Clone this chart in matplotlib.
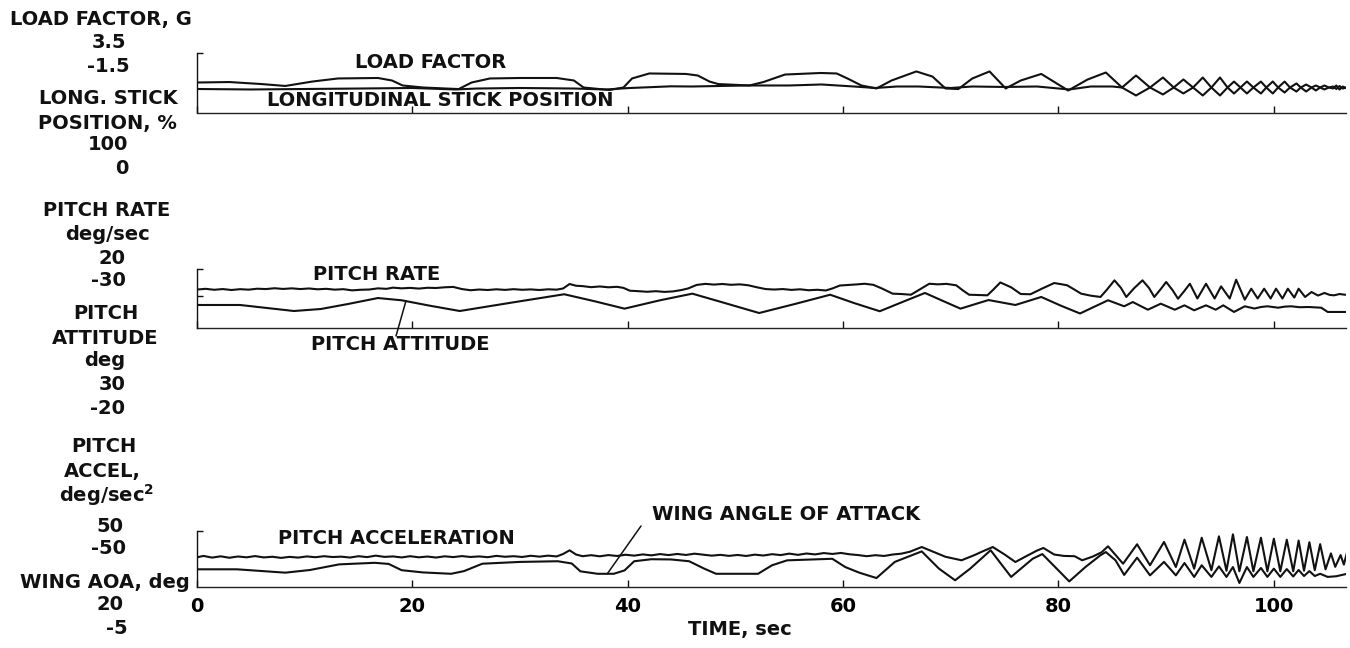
import matplotlib
matplotlib.use("Agg")
import matplotlib.pyplot as plt

# ---------------- data ----------------
TIME_TICKS = [0, 20, 40, 60, 80, 100]
TIME_TICK_LABELS = ["0", "20", "40", "60", "80", "100"]
T_MAX = 106.7

# Panel 1: load factor (G) and longitudinal stick position (%)
LF_RANGE = (-1.5, 3.5)
ST_RANGE = (0, 100)
LF_T = [0, 3, 6, 8.2, 10.7, 13.1, 16.8, 18.1, 19.1, 21, 23, 24.3, 25.5, 27.2, 30, 33.4, 35, 35.9, 38.3, 39.6,
        40.4, 42, 45.4, 46.5, 47.6, 48.4, 51.3, 52.6, 54.6, 57.9, 59.4, 60.4, 61.7, 63.1, 64.5, 66.8, 68.3, 69.5,
        70.7, 72, 73.6, 75.1, 76.5, 78.4, 80.9, 82.7, 84.4, 85.9, 87.2, 88.5, 89.7, 90.7, 91.6, 92.5, 93.4, 94.2,
        95.0, 95.7, 96.3, 96.9, 97.5, 98.1, 98.8, 99.3, 99.9, 100.4, 101.0, 101.5, 102.1, 102.5, 103.0, 103.5,
        103.9, 104.3, 104.7, 105.1, 105.5, 105.8, 106.1, 106.4, 106.7]
LF_G = [1.02, 1.06, 0.89, 0.73, 1.10, 1.36, 1.40, 1.19, 0.77, 0.60, 0.52, 0.47, 1.02, 1.36, 1.40, 1.40, 1.19, 0.60,
        0.39, 0.60, 1.36, 1.78, 1.74, 1.61, 1.10, 0.89, 0.77, 1.06, 1.69, 1.82, 1.78, 1.36, 0.77, 0.52, 1.19, 1.95,
        1.52, 0.52, 0.47, 1.36, 1.95, 0.52, 1.19, 1.74, 0.35, 1.27, 1.86, 0.60, -0.07, 0.60, 1.44, 0.60, 0.10, 0.60,
        1.44, 0.60, -0.07, 0.60, 1.10, 0.60, 0.10, 0.60, 1.10, 0.60, 0.10, 0.60, 1.10, 0.60, 0.26, 0.60, 0.85, 0.60,
        0.35, 0.60, 0.77, 0.60, 0.52, 0.77, 0.43, 0.68, 0.56]
ST_T = [0, 5, 10, 15, 20, 24, 26, 30, 35, 38, 40, 44, 46, 51, 55, 58, 61, 63, 65, 67, 70, 72, 75, 78, 81, 83, 85,
        85.9, 87.2, 88.5, 89.7, 90.7, 91.6, 92.5, 93.4, 94.2, 95.0, 95.7, 96.3, 96.9, 97.5, 98.1, 98.8, 99.3, 99.9,
        100.4, 101.0, 101.5, 102.1, 102.5, 103.0, 103.5, 103.9, 104.3, 104.7, 105.1, 105.5, 105.8, 106.1, 106.4, 106.7]
ST_P = [39.5, 38.7, 39.5, 40.3, 41.2, 38.7, 40.3, 41.2, 40.3, 38.7, 41.0, 44.0, 43.7, 45.4, 45.4, 47.1, 43.7, 41.2,
        43.7, 43.7, 41.2, 43.7, 42.9, 43.7, 38.7, 43.7, 43.7,
        42.0, 62.2, 42.0, 30.3, 42.0, 55.5, 42.0, 28.6, 42.0, 58.8, 42.0, 31.9, 42.0, 52.1, 42.0, 31.9, 42.0, 52.1,
        42.0, 33.6, 42.0, 48.8, 42.0, 35.3, 42.0, 45.4, 42.0, 38.7, 42.0, 43.7, 39.5, 44.5, 40.3, 42.0]

# Panel 2: pitch rate (deg/sec) and pitch attitude (deg)
PR_RANGE = (-30, 20)
PT_RANGE = (-20, 30)
PR_T = [0, 0.8, 1.6, 2.4, 3.2, 4.0, 4.8, 5.6, 6.4, 7.2, 8.0, 8.8, 9.6, 10.4, 11.2, 12.0, 12.8, 13.6, 14.4, 15.2,
        16.0, 16.8, 17.6, 18.2, 19.0, 19.8, 20.6, 21.4, 22.2, 23.0, 23.8, 24.6, 25.4, 26.2, 27.0, 27.8, 28.6, 29.4,
        30.2, 31.0, 31.8, 32.6, 33.4, 34.0, 34.6, 35.2, 35.8, 36.6, 37.4, 38.2, 39.0, 39.6, 40.2, 41.0, 41.8, 42.6,
        43.4, 44.2, 45.0, 45.6, 46.4, 47.2, 48.0, 48.8, 49.6, 50.4, 51.2, 52.0, 52.8, 53.6, 54.4, 55.2, 56.0, 56.8,
        57.6, 58.4, 59.0, 59.7, 60.4, 61.2, 62.0, 62.8, 63.6, 64.6, 65.4, 66.3, 67.0, 68.0, 68.8, 69.6, 70.5, 71.1,
        71.7, 72.5, 73.4, 74.0, 74.6, 75.6, 76.5, 77.4, 78.5, 79.6, 80.2, 80.8, 81.4, 82.1, 83.0, 83.9, 84.5, 85.2,
        85.8, 86.3, 87.0, 87.8, 88.4, 88.9, 89.5, 90.0, 90.6, 91.1, 91.7, 92.2, 92.9, 93.7, 94.5, 95.1, 95.9, 96.5,
        97.3, 97.9, 98.5, 99.1, 99.7, 100.2, 100.8, 101.3, 101.9, 102.3, 102.9, 103.5, 104.1, 104.7, 105.2, 105.6,
        106.1, 106.6]
PR_V = [2.6, 3.2, 2.4, 3.0, 2.2, 2.9, 2.5, 3.3, 3.0, 3.7, 3.1, 3.6, 3.0, 3.5, 2.8, 3.2, 2.5, 2.9, 1.9, 2.4,
        2.6, 3.6, 3.2, 4.2, 3.6, 4.0, 3.4, 4.1, 3.9, 4.5, 4.8, 3.0, 2.0, 2.6, 2.2, 2.8, 2.3, 2.9, 2.4, 2.7,
        2.2, 2.8, 2.5, 3.5, 7.3, 5.8, 5.5, 4.6, 5.2, 4.5, 4.9, 4.0, 1.6, 1.2, 0.7, 1.2, 0.6, 1.0, 2.2, 3.5,
        6.5, 7.4, 6.8, 7.3, 6.6, 7.0, 6.2, 4.5, 3.0, 2.6, 3.0, 2.3, 2.8, 2.0, 2.4, 1.8, 3.5, 6.0, 6.4, 6.9,
        7.5, 6.6, 3.5, -0.9, -1.2, -1.8, 2.0, 7.5, 7.0, 7.4, 6.2, 2.0, -1.8, -2.0, -2.3, 3.0, 8.6, 4.5, -1.2, -1.4,
        3.5, 8.1, 7.2, 6.2, 3.0, -0.9, -2.6, -3.7, 2.5, 10.4, 4.0, -3.7, 3.5, 10.4, 4.0, -3.7, 3.0, 9.0, 2.0, -5.2,
        1.5, 7.5, -5.0, 7.5, -5.0, 5.3, -5.0, 10.9, -6.0, 3.3, -5.0, 3.3, -5.0, 3.3, -5.0, 3.3, -4.2, 3.3, -3.7, 0.5,
        -2.5, -0.3, -2.0, -2.3, -1.2, -1.8]
PT_T = [0, 4, 9, 11.5, 14, 16.8, 19, 21.5, 24.4, 29, 34.1, 37, 39.7, 43, 46, 49, 52.2, 55.5, 58.8, 61, 63.4, 65.5,
        67.6, 69.5, 70.9, 73.5, 76.0, 78.4, 80.2, 82.0, 84.6, 86.1, 86.9, 88.3, 89.5, 90.8, 91.7, 92.6, 93.7, 94.6,
        95.3, 96.3, 97.3, 98.2, 98.8, 99.4, 100.4, 101.0, 101.6, 102.4, 103.2, 104.4, 105.0, 106.6]
PT_V = [-0.5, -0.5, -5.6, -3.9, 0.3, 5.4, 3.5, -0.9, -5.6, 1.2, 8.6, 2.5, -3.6, 3.5, 9.1, 1.2, -7.3, 0.3, 8.2, 1.2,
        -5.8, 2.0, 9.7, 2.0, -3.6, 3.7, -0.5, 6.3, -1.0, -7.7, 3.5, -1.6, 2.0, -4.5, 0.6, -4.5, -0.8, -5.0, -0.8, -4.5,
        -0.8, -6.4, -1.6, -3.5, -2.2, -1.6, -2.8, -1.9, -1.6, -2.4, -2.2, -2.8, -6.4, -6.4]

# Panel 3: pitch acceleration (deg/sec^2) and wing angle of attack (deg)
PA_RANGE = (-50, 50)
AOA_RANGE = (-5, 20)
PA_T = [0, 0.6, 1.4, 2.2, 3.0, 3.8, 4.6, 5.4, 6.2, 7.0, 7.8, 8.6, 9.4, 10.2, 11.0, 11.8, 12.6, 13.4, 14.2, 15.0,
        15.8, 16.6, 17.4, 18.2, 19.0, 19.8, 20.6, 21.4, 22.2, 23.0, 23.8, 24.6, 25.4, 26.2, 27.0, 27.8, 28.6, 29.4,
        30.2, 31.0, 31.8, 32.6, 33.4, 34.0, 34.6, 35.2, 35.8, 36.6, 37.4, 38.2, 39.0, 39.8, 40.6, 41.4, 42.2, 43.0,
        43.8, 44.6, 45.4, 46.2, 47.0, 47.8, 48.6, 49.4, 50.2, 51.0, 51.8, 52.6, 53.4, 54.2, 55.0, 55.8, 56.6, 57.4,
        58.2, 59.0, 59.8, 60.6, 61.4, 62.2, 63.0, 63.8, 64.6, 65.4, 66.2, 67.3, 68.5, 69.5, 71.0, 72.2, 73.0, 73.9,
        75.0, 76.0, 77.0, 78.0, 78.6, 79.6, 80.5, 81.5, 82.2, 83.2, 84.0, 84.6, 86.0, 87.3, 88.5, 89.8, 90.9, 91.7,
        92.6, 93.3, 94.2, 94.9, 95.6, 96.2, 96.8, 97.5, 98.1, 98.8, 99.4, 100.0, 100.6, 101.2, 101.8, 102.3, 102.8,
        103.3, 103.8, 104.3, 104.8, 105.3, 105.7, 106.2, 106.5, 106.8]
PA_V = [3.0, 5.5, 2.5, 4.8, 2.2, 4.5, 3.0, 5.2, 2.8, 4.0, 2.0, 3.8, 2.5, 4.6, 3.2, 5.0, 3.5, 4.2, 2.6, 5.0,
        3.4, 6.0, 3.8, 4.6, 2.8, 5.0, 3.0, 4.4, 2.6, 4.8, 3.4, 5.2, 3.6, 4.6, 3.2, 5.6, 4.0, 5.0, 3.6, 5.8,
        4.2, 6.0, 4.6, 9.0, 15.5, 8.0, 5.0, 6.8, 4.8, 7.0, 5.4, 7.6, 6.0, 8.2, 6.5, 8.8, 7.0, 9.0, 7.2, 9.5,
        7.8, 6.0, 7.4, 5.6, 7.2, 5.4, 7.8, 6.2, 8.6, 7.0, 9.6, 7.4, 9.8, 8.2, 10.6, 9.0, 10.8, 8.4, 7.0, 5.0,
        6.8, 5.4, 8.0, 9.5, 13.0, 21.4, 12.0, 4.0, -2.3, 7.0, 14.0, 21.4, 8.0, -5.4, 5.0, 15.0, 19.7, 8.0, 5.5, 5.0,
        -2.3, 4.5, 12.0, 22.7, -8.4, 26.3, -11.2, 30.4, -14.3, 34.5, -17.3, 38.0, -20.0, 40.5, -21.0, 44.1, -22.0,
        39.3, -22.0, 38.0, -22.0, 36.3, -22.0, 34.5, -22.0, 33.0, -21.0, 30.0, -20.0, 26.5, -18.5, 10.0, -14.0,
        7.0, -10.0, 12.0]
AOA_T = [0, 3.7, 8.2, 10.5, 13.2, 16.5, 17.8, 19, 21, 23.6, 24.8, 26.5, 30, 33.5, 34.8, 35.6, 37.2, 38.7, 39.7,
         40.6, 42.2, 44, 45.7, 47.1, 48.2, 52.1, 53.4, 54.8, 59, 60.2, 61.5, 63.1, 64.8, 67.3, 68.9, 70.4, 71.8,
         73.7, 75.6, 77.6, 78.5, 81.0, 82.5, 83.9, 84.4, 85.3, 86.1, 87.3, 88.5, 89.8, 90.9, 91.7, 92.6, 93.3,
         94.2, 94.9, 95.6, 96.2, 96.8, 97.5, 98.1, 98.8, 99.4, 100.0, 100.6, 101.2, 101.8, 102.3, 102.8, 103.3,
         103.8, 104.3, 105.0, 105.8, 106.8]
AOA_V = [2.9, 2.9, 1.4, 2.6, 5.1, 5.8, 5.3, 2.5, 1.5, 0.9, 2.1, 5.4, 6.2, 6.5, 5.5, 2.0, 0.9, 0.9, 2.4, 6.5,
         7.4, 7.3, 6.5, 3.2, 0.9, 0.9, 4.7, 6.9, 7.6, 3.9, 1.4, -1.0, 6.2, 10.9, 3.2, -2.0, 3.2, 11.4, -0.5, 7.6,
         9.7, -2.5, 3.9, 9.2, 10.6, 6.9, 0.4, 8.1, 0.2, 6.2, 0.2, 5.7, -0.5, 4.7, -0.5, 4.2, -0.5, 3.9, -3.2, 3.9,
         -0.5, 3.5, -0.5, 3.2, -0.5, 3.0, -0.3, 2.6, -0.1, 2.1, -0.1, 0.9, -0.5, -0.2, 0.9]

# left-hand scale captions: (text, x centre px, y centre px)
LEFT_LABELS = [
    ("LOAD FACTOR, G", 101, 20), ("3.5", 109, 43), ("-1.5", 108, 67), ("LONG. STICK", 108, 99),
    ("POSITION, %", 107, 123), ("100", 108, 145), ("0", 122, 168),
    ("PITCH RATE", 107, 210), ("deg/sec", 108, 234), ("20", 112, 258), ("-30", 108, 281),
    ("PITCH", 106, 314), ("ATTITUDE", 105, 338), ("deg", 105, 361), ("30", 112, 385), ("-20", 107, 409),
    ("PITCH", 104, 447), ("ACCEL,", 102, 472), (r"deg/sec$^{\mathbf{2}}$", 107, 495), ("50", 110, 526),
    ("-50", 108, 549), ("WING AOA, deg", 105, 582), ("20", 110, 605), ("-5", 117, 628),
]

# ---------------- figure ----------------
plt.rcParams['font.family'] = ['DejaVu Sans']
plt.rcParams['font.weight'] = 'bold'
plt.rcParams['mathtext.fontset'] = 'dejavusans'

W, H = 1350, 648
fig = plt.figure(figsize=(W / 100, H / 100), dpi=100)
fig.patch.set_facecolor('white')
INK = '#111111'
FS = 14
LW = 1.5
X_LEFT, X_RIGHT = 197, 1346


def fx(x):
    return x / W


def fy(y):
    return 1 - y / H


def add_panel(top, bottom):
    return fig.add_axes([fx(X_LEFT), fy(bottom), (X_RIGHT - X_LEFT) / W, (bottom - top) / H])


panels = [
    dict(top=53, bottom=112.5, t1=LF_T, v1=LF_G, r1=LF_RANGE, t2=ST_T, v2=ST_P, r2=ST_RANGE, extra=[]),
    dict(top=269, bottom=328, t1=PR_T, v1=PR_V, r1=PR_RANGE, t2=PT_T, v2=PT_V, r2=PT_RANGE, extra=[-3]),
    dict(top=531, bottom=587, t1=PA_T, v1=PA_V, r1=PA_RANGE, t2=AOA_T, v2=AOA_V, r2=AOA_RANGE, extra=[]),
]

axes = []
for i, p in enumerate(panels):
    ax = add_panel(p['top'], p['bottom'])
    ax.set_xlim(0, T_MAX)
    ax.set_ylim(*p['r1'])
    ax.patch.set_alpha(0)
    ax.plot(p['t1'], p['v1'], color=INK, lw=LW, solid_joinstyle='round')
    ax2 = ax.twinx()
    ax2.set_ylim(*p['r2'])
    ax2.plot(p['t2'], p['v2'], color=INK, lw=LW, solid_joinstyle='round')
    for s in ['top', 'right']:
        ax.spines[s].set_visible(False)
    for s in ax2.spines.values():
        s.set_visible(False)
    ax2.set_yticks([])
    ax.spines['left'].set_linewidth(1.0)
    ax.spines['bottom'].set_linewidth(1.0)
    ax.spines['left'].set_color(INK)
    ax.spines['bottom'].set_color('#222222')
    ax.set_xticks(TIME_TICKS)
    ax.set_yticks([p['r1'][1]] + p['extra'])
    ax.tick_params(axis='y', direction='in', length=4, width=1, labelleft=False, color=INK)
    if i == 2:
        ax.set_xticklabels(TIME_TICK_LABELS)
        ax.tick_params(axis='x', direction='in', length=5, width=1, labelsize=FS, pad=7, color=INK)
    else:
        ax.tick_params(axis='x', direction='in', length=5, width=1, labelbottom=False, color=INK)
    axes.append((ax, ax2))

# left captions
for text, x, y in LEFT_LABELS:
    fig.text(fx(x), fy(y), text, ha='center', va='center', fontsize=FS, fontweight='bold', color=INK)


# trace labels
def tlabel(text, x, y):
    fig.text(fx(x), fy(y), text, ha='center', va='center', fontsize=FS, fontweight='bold', color=INK)


tlabel("LOAD FACTOR", 431, 62)
tlabel("LONGITUDINAL STICK POSITION", 440, 100)
tlabel("PITCH RATE", 377, 274)
tlabel("PITCH ATTITUDE", 400, 345)
tlabel("PITCH ACCELERATION", 396, 539)
tlabel("WING ANGLE OF ATTACK", 786, 515)
tlabel("TIME, sec", 740, 630)

# leader lines
axes[1][1].annotate("", xy=(19.4, 2.8), xycoords='data', xytext=(fx(396), fy(336)),
                    textcoords='figure fraction',
                    arrowprops=dict(arrowstyle='-', color=INK, lw=1.1, shrinkA=0, shrinkB=0))
axes[2][1].annotate("", xy=(38.1, 0.9), xycoords='data', xytext=(fx(641), fy(526)),
                    textcoords='figure fraction',
                    arrowprops=dict(arrowstyle='-', color=INK, lw=1.1, shrinkA=0, shrinkB=0))

fig.savefig("out.png", dpi=100, facecolor='white')
